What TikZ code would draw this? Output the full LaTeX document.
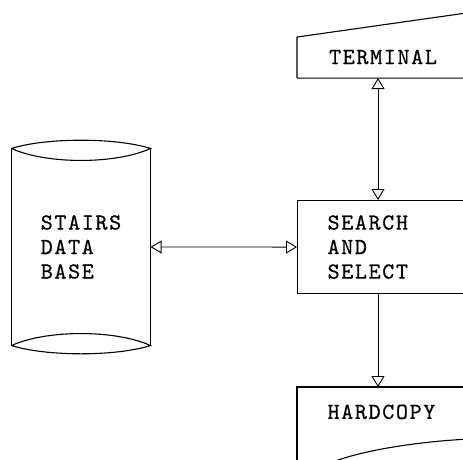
\documentclass[tikz,border=0pt]{standalone}
\usepackage{fontspec}
\newfontfamily\stairsfont{lmmono10-regular.otf}[LetterSpace=7,FakeBold=0.6]
\usepackage{tikz}
\usetikzlibrary{arrows.meta,calc,positioning}

\begin{document}
\begin{tikzpicture}[x=1pt,y=-1pt,line width=1.1pt,
  lbl/.style={font=\stairsfont\fontsize{23}{24.5}\selectfont,align=left},
  box/.style={lbl,anchor=north west,inner xsep=30pt,text width=170pt},
  flow/.style={{Triangle[open,length=11pt,width=13pt]}-{Triangle[open,length=11pt,width=13pt]},line width=0.9pt}]
\useasboundingbox (0,0) rectangle (463,459);
\clip (0,0) rectangle (463,459);
\coordinate (tx) at (378,0);
\node[lbl,minimum height=41pt,inner sep=0pt] (term) at (383,57) {TERMINAL};
\node[box,draw,minimum height=93pt] (search) at (297,200) {SEARCH\\AND\\SELECT};
\node[lbl,minimum width=138pt,minimum height=196pt,inner sep=0pt] (db) at (81,247) {STAIRS\\DATA\\BASE};
\node[box,inner ysep=17pt] (hard) at (297,387) {HARDCOPY};
% terminal
\draw (term.south -| search.west) -- ++(0,-41) -- ++(190,-27) (term.south -| search.west) -- ++(190,0);
% data base
\draw (db.north west) -- (db.south west) (db.north east) -- (db.south east);
\draw (db.north west) .. controls +(35,-11) and +(-35,-11) .. (db.north east)
  .. controls +(-35,16) and +(35,16) .. (db.north west);
\draw (db.south west) .. controls +(35,-16) and +(-35,-16) .. (db.south east)
  .. controls +(-35,11) and +(35,11) .. (db.south west);
% hardcopy
\draw (hard.north west) ++(0,90) -- (hard.north west) -- ++(200,0);
\draw (hard.north west) ++(33,76) .. controls +(40,-16) and +(-60,0) .. ++(175,-25);
% flow
\path[flow]
(term.south -| tx) edge (search.north -| tx)
(db.east) edge (search.west);
\draw[line width=0.9pt,-{Triangle[open,length=11pt,width=13pt]}] (search.south -| tx) -- (hard.north -| tx);
\end{tikzpicture}
\end{document}
